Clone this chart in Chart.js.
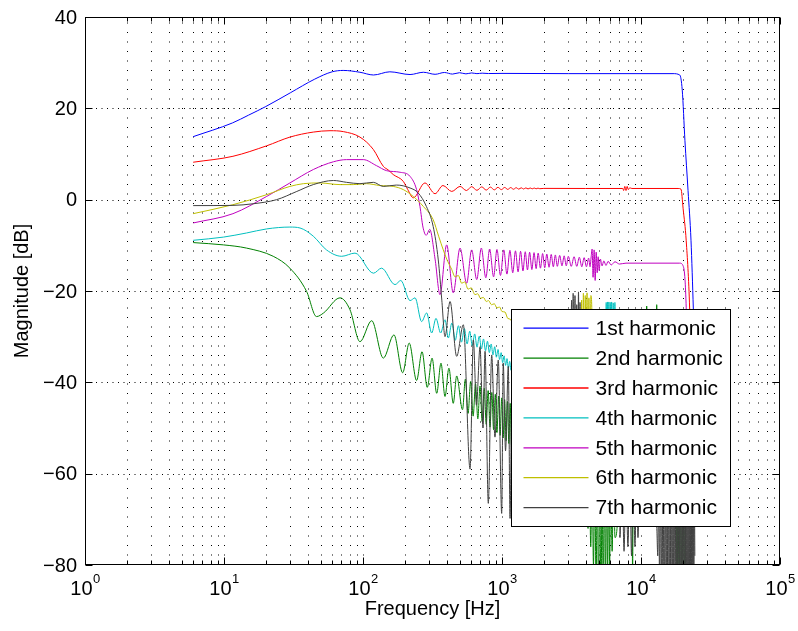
<!DOCTYPE html>
<html><head><meta charset="utf-8">
<script src="https://cdn.jsdelivr.net/npm/chart.js@4.4.1/dist/chart.umd.min.js"></script>
<style>html,body{margin:0;padding:0;background:#fff;}canvas{display:block;}</style>
</head><body>
<canvas id="c" width="798" height="631"></canvas>
<script>
// ---- data: [frequency Hz, magnitude dB] ----
const h1 = [[6,13.8],[11.5,16.8],[15,18.5],[20,20.4],[30,23.4],[45,26.4],[60,28.0],[72,28.3],[95,27.9],[119,27.3],[156,28.0],[218,27.4],[272,27.9],[330,27.45],[385,27.85],[440,27.5],[495,27.8],[550,27.55],[605,27.75],[660,27.6],[720,27.7],[800,27.62],[1000,27.65],[3000,27.6],[10000,27.6],[17000,27.6],[19000,27.3],[19800,24.0],[20700,13.0],[21800,2.0],[22900,-9.0],[23800,-24.0],[24000,-28.0]];

const h2 = [[6,-9.4],[9.9,-9.9],[14.5,-10.6],[22.6,-12.4],[29.8,-15.0],[39.3,-20.1],[46.3,-25.6],[52.1,-24.8],[68.3,-21.5],[80.6,-24.1],[95.1,-31.1],[115.5,-26.5],[140,-34.7],[167,-29.6],[193,-37.9],[215,-31.4],[243,-39.6],[266,-33.3],[290,-41.1],[314,-34.7],[339,-42.4],[364,-35.8],[389,-43.1],[415,-36.9],[446,-44.6],[472,-38.6],[520,-46.0],[545,-39.3],[570,-46.8],[595,-39.8],[620,-47.4],[645,-40.3],[670,-48.0],[695,-40.8],[720,-48.6],[745,-41.3],[770,-49.2],[795,-41.8],[820,-49.8],[845,-42.2],[870,-50.4],[895,-42.6],[920,-51.0],[945,-43.0],[970,-51.6],[995,-43.4],[1020,-52.2],[1045,-43.8],[1070,-52.8],[1095,-44.2],[1120,-53.4],[1145,-44.6],[1170,-54.0],[1300,-46],[1450,-56],[1600,-48],[1800,-58],[2000,-50],[2500,-60],[3000,-55],[3500,-62],[4000,-60],[4160,-72],[4250,-60],[4350,-76],[4450,-60],[4550,-80],[4650,-62],[4750,-84],[4850,-61],[4950,-88],[5050,-60],[5150,-90],[5250,-62],[5350,-87],[5450,-60],[5550,-84],[5650,-62],[5750,-82],[5850,-61],[5950,-80],[6050,-62],[6200,-77],[6350,-60],[6500,-74],[6720,-72],[7000,-55],[8600,-60],[8700,-82],[8800,-60],[10900,-40],[10990,-23.3],[11100,-40],[12900,-40],[12970,-23],[13100,-40],[15000,-50],[18000,-62],[18150,-85],[18300,-62],[18900,-85],[19100,-62],[19700,-85],[19900,-62],[20700,-85],[20900,-62],[24000,-60]];

const h3 = [[6,8.2],[11.6,9.5],[20.3,11.8],[29.8,13.7],[43.9,14.8],[57.9,15.1],[72.2,14.9],[95.1,13.7],[118.6,11.0],[140,7.3],[152,6.5],[165,5.5],[195,4.0],[210,2.2],[230,0.4],[279,3.66],[330,1.3],[376,3.1],[435,1.8],[499,2.9],[555,2.0],[605,2.85],[660,2.05],[715,2.8],[770,2.1],[825,2.75],[880,2.15],[935,2.7],[990,2.2],[1045,2.68],[1100,2.25],[1155,2.65],[1210,2.28],[1265,2.62],[1320,2.3],[1375,2.6],[1430,2.33],[1485,2.58],[1540,2.35],[1595,2.56],[1650,2.37],[1705,2.55],[1760,2.38],[1815,2.53],[1870,2.4],[2000,2.47],[4000,2.45],[7400,2.45],[7500,2.0],[7650,2.9],[7800,2.0],[7950,2.9],[8100,2.2],[8300,2.6],[8600,2.45],[18500,2.45],[19400,2.3],[20100,-2.0],[21150,-9.0],[22400,-24.0],[23500,-50],[24000,-60]];

const h4 = [[6,-8.9],[9.9,-8.2],[14.5,-7.3],[20.3,-6.4],[29.8,-6.0],[35.2,-6.2],[43.9,-8.0],[54.6,-11.0],[70.3,-12.4],[87.6,-11.7],[119,-16.1],[136,-15.0],[170,-18.6],[187,-17.7],[218,-22.1],[237,-21.5],[264,-26.7],[287,-24.8],[312,-29.2],[335,-26.0],[362,-29.2],[389,-26.3],[411,-30.3],[436,-27.0],[461,-30.8],[486,-27.6],[511,-31.2],[536,-28.2],[561,-31.6],[586,-28.8],[611,-32.0],[636,-29.4],[661,-32.3],[686,-29.9],[711,-32.7],[736,-30.5],[761,-33.1],[786,-31.0],[811,-33.5],[836,-31.6],[861,-34.0],[886,-32.2],[911,-34.5],[936,-32.8],[961,-35.0],[986,-33.5],[1011,-35.7],[1036,-34.2],[1061,-36.3],[1086,-34.8],[1111,-36.9],[1136,-35.4],[1161,-37.4],[1400,-38],[2000,-42],[3000,-46],[4000,-48],[5000,-50],[5450,-40],[5510,-24],[5560,-45],[5620,-22.5],[5680,-45],[5740,-22.4],[5800,-44],[5870,-22.4],[5940,-45],[6010,-22.5],[6080,-44],[6150,-22.4],[6230,-45],[6310,-22.6],[6400,-44],[6490,-22.5],[6580,-45],[6680,-24],[6800,-45],[8000,-50],[12000,-55],[20000,-60],[24000,-60]];

const h5 = [[6,-5.1],[11.6,-3.07],[20.3,0.72],[29.8,3.66],[43.9,6.6],[61.3,8.3],[76.1,8.77],[100.5,8.77],[125,7.45],[147.7,6.35],[185,6.0],[218,5.1],[243,2.2],[257,-1.5],[270,-6.0],[285,-7.8],[302,-6.5],[330,-13.0],[358,-20.8],[400,-9.9],[446,-20.4],[499,-10.6],[557,-18.3],[605,-11.0],[658,-17.5],[710,-10.6],[765,-17.1],[815,-10.8],[870,-16.9],[920,-10.9],[975,-16.6],[1030,-11.0],[1085,-16.3],[1140,-11.1],[1195,-16.0],[1250,-11.2],[1305,-15.8],[1360,-11.3],[1415,-15.6],[1470,-11.4],[1525,-15.4],[1580,-11.5],[1640,-15.3],[1700,-11.6],[1760,-15.1],[1820,-11.7],[1890,-15.0],[1960,-11.8],[2030,-14.9],[2100,-11.9],[2180,-14.8],[2260,-12.0],[2340,-14.7],[2420,-12.1],[2500,-14.6],[2600,-12.2],[2700,-14.5],[2800,-12.3],[2900,-14.5],[3000,-12.4],[3150,-14.6],[3300,-12.5],[3450,-14.6],[3600,-12.6],[3750,-14.7],[3900,-12.7],[4050,-14.7],[4200,-12.8],[4300,-14.7],[4380,-12.5],[4450,-10.8],[4520,-17.0],[4600,-11.0],[4680,-17.7],[4760,-11.5],[4840,-16.0],[4920,-12.5],[5000,-15.5],[5100,-13.0],[5250,-14.5],[5400,-13.4],[5600,-14.4],[5800,-13.5],[6100,-14.3],[6500,-13.6],[7000,-14.1],[7800,-13.9],[19000,-13.9],[20150,-14.6],[20730,-17.5],[21150,-23.7],[22000,-45],[23000,-65],[24000,-65]];

const h6 = [[6,-3.07],[11.6,-1.1],[20.3,1.1],[29.8,2.9],[37.2,3.5],[49.1,3.66],[68.3,3.3],[85,3.3],[106,3.5],[132,3.1],[165,2.9],[195,2.2],[230,0.7],[272,-1.5],[320,-4.4],[350,-8.0],[378,-11.0],[400,-13.0],[435,-15.3],[460,-16.9],[485,-16.6],[513,-18.3],[540,-18.0],[570,-19.6],[600,-19.3],[640,-20.8],[670,-20.6],[700,-21.6],[735,-21.4],[770,-22.3],[800,-22.1],[840,-23.0],[880,-22.8],[920,-23.7],[960,-23.5],[1000,-24.5],[1050,-24.6],[1100,-26.0],[1150,-26.2],[1200,-27.5],[1500,-30],[2000,-32],[2500,-34],[3000,-36],[3700,-38],[3740,-22],[3800,-40],[3850,-20.5],[3910,-42],[3970,-21],[4030,-40],[4090,-20.4],[4150,-43],[4220,-21.5],[4290,-40],[4360,-21],[4420,-23],[4500,-42],[5000,-45],[8000,-50],[15000,-55],[24000,-55]];

const h7 = [[6,-1.3],[11.6,-1.25],[16.2,-0.9],[23.9,0.0],[33.4,1.8],[43.9,3.3],[61.3,4.2],[76.1,3.8],[95.1,3.5],[118.6,3.8],[140,2.9],[174,3.2],[218,2.56],[249,1.5],[286,-1.5],[320,-5.9],[348,-13.2],[369,-22.0],[389,-30.0],[423,-22.3],[472,-34.3],[527,-27.4],[589,-59.0],[622,-30.7],[655,-45.0],[695,-32.2],[730,-50.0],[755,-33.2],[797,-66.5],[843,-34.0],[890,-52.0],[940,-35.1],[995,-68.7],[1021,-35.8],[1060,-55.0],[1110,-36.5],[1143,-69.8],[1180,-38],[1250,-60],[1350,-40],[1500,-62],[1700,-42],[2000,-60],[2400,-45],[2800,-60],[3100,-45],[3170,-22],[3210,-46],[3250,-20.5],[3300,-48],[3350,-21],[3400,-44],[3450,-23],[3500,-47],[3550,-20.2],[3600,-44],[3640,-22.5],[3700,-45],[4200,-55],[5000,-50],[6000,-58],[7000,-60],[7060,-74],[7300,-58],[7550,-77],[7800,-60],[8050,-76],[8300,-60],[8550,-78],[8800,-60],[9050,-76],[9300,-61],[9510,-74],[9800,-60],[11000,-58],[12500,-62],[13000,-72],[13200,-78],[13400,-62],[13600,-84],[13800,-60],[14000,-88],[14200,-62],[14400,-90],[14600,-60],[14800,-90],[15000,-62],[15200,-90],[15400,-61],[15600,-90],[15800,-60],[16000,-90],[16200,-62],[16400,-90],[16600,-60],[16800,-90],[17000,-62],[17200,-90],[17400,-61],[17600,-90],[17800,-60],[18000,-90],[18200,-62],[18400,-90],[18600,-60],[18800,-90],[19000,-62],[19200,-90],[19400,-61],[19600,-90],[19800,-60],[20000,-90],[20200,-62],[20400,-90],[20600,-60],[20800,-90],[21000,-62],[21200,-90],[21400,-61],[21600,-90],[21800,-60],[22000,-90],[22200,-62],[22400,-90],[22600,-60],[22800,-90],[23000,-62],[23200,-90],[23400,-61],[23600,-88],[23800,-62],[24000,-84],[24200,-62],[24400,-78]];

const seriesLabels = ['1st harmonic','2nd harmonic','3rd harmonic','4th harmonic','5th harmonic','6th harmonic','7th harmonic'];
const seriesColors = ['#0000ff','#008000','#ff0000','#00bfbf','#bf00bf','#bfbf00','#404040'];
const seriesData = [h1,h2,h3,h4,h5,h6,h7];

// ---- axes / ticks ----
const xMin = 1, xMax = 100000, yMin = -80, yMax = 40;
const xDecades = [1,10,100,1000,10000,100000];
const xExponents = ['0','1','2','3','4','5'];
const xMinorMult = [2,3,4,5,6,7,8,9];
const yTicks = [-80,-60,-40,-20,0,20,40];
const xTitle = 'Frequency [Hz]';
const yTitle = 'Magnitude [dB]';

const FONT = '"Liberation Sans", Arial, Helvetica, sans-serif';

const gridPlugin = {
  id: 'matlabGrid',
  beforeDatasetsDraw(chart) {
    const {ctx, chartArea: a, scales: {x, y}} = chart;
    ctx.save();
    ctx.strokeStyle = '#000';
    ctx.lineWidth = 1;
    const xs = [];
    xDecades.forEach((d, i) => { xs.push(d); if (i < xDecades.length - 1) xMinorMult.forEach(m => xs.push(d * m)); });
    ctx.setLineDash([1, 8.5]);
    xs.forEach(v => {
      const px = Math.round(x.getPixelForValue(v)) + 0.5;
      if (px <= a.left + 1 || px >= a.right - 1) return;
      ctx.beginPath(); ctx.moveTo(px, a.bottom); ctx.lineTo(px, a.top); ctx.stroke();
    });
    ctx.setLineDash([1, 4.5]);
    yTicks.forEach(v => {
      const py = Math.round(y.getPixelForValue(v)) + 0.5;
      if (py <= a.top + 1 || py >= a.bottom - 1) return;
      ctx.beginPath(); ctx.moveTo(a.left, py); ctx.lineTo(a.right, py); ctx.stroke();
    });
    ctx.restore();
  }
};

const framePlugin = {
  id: 'matlabFrame',
  afterDatasetsDraw(chart) {
    const {ctx, chartArea: a, scales: {x, y}} = chart;
    ctx.save();
    // legend
    const lw = 219, lh = 217;
    const lx = Math.round(a.right - 50 - lw) + 0.5, ly = Math.round(a.bottom - 39 - lh) + 0.5;
    ctx.fillStyle = '#fff';
    ctx.fillRect(lx, ly, lw, lh);
    ctx.strokeStyle = '#000'; ctx.lineWidth = 1; ctx.setLineDash([]);
    ctx.strokeRect(lx, ly, lw, lh);
    ctx.font = '21px ' + FONT;
    ctx.textAlign = 'left'; ctx.textBaseline = 'middle';
    chart.data.datasets.forEach((ds, i) => {
      const ry = ly + 18.7 + i * 29.9;
      ctx.strokeStyle = ds.borderColor; ctx.lineWidth = 1.3;
      ctx.beginPath(); ctx.moveTo(lx + 12, ry); ctx.lineTo(lx + 77, ry); ctx.stroke();
      ctx.fillStyle = '#000';
      ctx.fillText(ds.label, lx + 84, ry + 1);
    });
    // axes box
    ctx.strokeStyle = '#000'; ctx.lineWidth = 1;
    const L = Math.round(a.left) + 0.5, R = Math.round(a.right) - 0.5, T = Math.round(a.top) + 0.5, B = Math.round(a.bottom) - 0.5;
    ctx.strokeRect(L, T, R - L, B - T);
    // ticks
    ctx.beginPath();
    xDecades.forEach((d, i) => {
      const px = Math.round(x.getPixelForValue(d)) + 0.5;
      ctx.moveTo(px, B); ctx.lineTo(px, B - 7); ctx.moveTo(px, T); ctx.lineTo(px, T + 7);
      if (i < xDecades.length - 1) xMinorMult.forEach(m => {
        const qx = Math.round(x.getPixelForValue(d * m)) + 0.5;
        ctx.moveTo(qx, B); ctx.lineTo(qx, B - 4); ctx.moveTo(qx, T); ctx.lineTo(qx, T + 4);
      });
    });
    yTicks.forEach(v => {
      const py = Math.round(y.getPixelForValue(v)) + 0.5;
      ctx.moveTo(L, py); ctx.lineTo(L + 7, py); ctx.moveTo(R, py); ctx.lineTo(R - 7, py);
    });
    ctx.stroke();
    // tick labels
    ctx.fillStyle = '#000';
    ctx.font = '20px ' + FONT; ctx.textAlign = 'right'; ctx.textBaseline = 'middle';
    yTicks.forEach(v => {
      const txt = v < 0 ? '\u2212' + Math.abs(v) : String(v);
      ctx.fillText(txt, a.left - 8, y.getPixelForValue(v) + 1);
    });
    ctx.textAlign = 'left'; ctx.textBaseline = 'alphabetic';
    xDecades.forEach((d, i) => {
      ctx.font = '20px ' + FONT;
      const w1 = ctx.measureText('10').width;
      ctx.font = '13px ' + FONT;
      const w2 = ctx.measureText(xExponents[i]).width;
      const sx = x.getPixelForValue(d) - (w1 + w2) / 2;
      ctx.font = '20px ' + FONT;
      ctx.fillText('10', sx, a.bottom + 30);
      ctx.font = '13px ' + FONT;
      ctx.fillText(xExponents[i], sx + w1 + 0.5, a.bottom + 18);
    });
    // axis titles
    ctx.font = '20px ' + FONT; ctx.textAlign = 'center'; ctx.textBaseline = 'middle';
    ctx.fillText(xTitle, (a.left + a.right) / 2, a.bottom + 44);
    ctx.save();
    ctx.translate(22, (a.top + a.bottom) / 2);
    ctx.rotate(-Math.PI / 2);
    ctx.fillText(yTitle, 0, 0);
    ctx.restore();
    ctx.restore();
  }
};

new Chart(document.getElementById('c').getContext('2d'), {
  type: 'line',
  data: {
    datasets: seriesData.map((pts, i) => ({
      label: seriesLabels[i],
      data: pts.map(p => ({x: p[0], y: p[1]})),
      borderColor: seriesColors[i],
      backgroundColor: seriesColors[i],
      borderWidth: 1,
      pointRadius: 0,
      fill: false,
      cubicInterpolationMode: 'monotone',
      order: seriesData.length - i
    }))
  },
  options: {
    responsive: false,
    animation: false,
    devicePixelRatio: 1,
    events: [],
    layout: {padding: {top: 17, right: 18, left: 0, bottom: 0}},
    scales: {
      x: {type: 'logarithmic', min: xMin, max: xMax,
          grid: {display: false}, border: {display: false}, ticks: {display: false},
          afterFit: s => { s.height = 66; }},
      y: {type: 'linear', min: yMin, max: yMax,
          grid: {display: false}, border: {display: false}, ticks: {display: false},
          afterFit: s => { s.width = 85; }}
    },
    plugins: {legend: {display: false}, tooltip: {enabled: false}}
  },
  plugins: [gridPlugin, framePlugin]
});
</script>
</body></html>
